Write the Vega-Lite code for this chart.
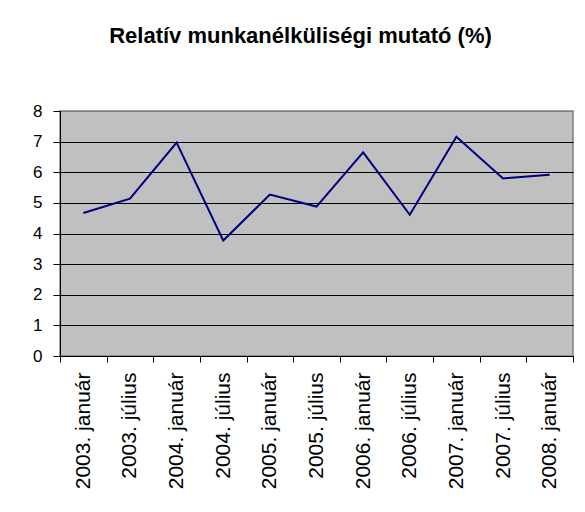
{
  "$schema": "https://vega.github.io/schema/vega-lite/v6.json",
  "width": 513,
  "height": 245,
  "autosize": {"type": "none"},
  "padding": {"left": 60, "top": 111, "right": 12, "bottom": 156},
  "background": "white",
  "title": {
    "text": "Relatív munkanélküliségi mutató (%)",
    "font": "Liberation Sans",
    "fontSize": 22,
    "fontWeight": "bold",
    "color": "black",
    "anchor": "middle",
    "frame": "group",
    "baseline": "alphabetic",
    "offset": 37,
    "dx": -16
  },
  "config": {
    "view": {"fill": "#C0C0C0", "stroke": "#808080", "strokeWidth": 1.5},
    "axis": {
      "labelFont": "Liberation Sans",
      "labelColor": "black",
      "domainColor": "black",
      "tickColor": "black",
      "titleFont": "Liberation Sans"
    }
  },
  "data": {
    "values": [
      {"idoszak": "2003. január", "ertek": 4.67},
      {"idoszak": "2003. július", "ertek": 5.14},
      {"idoszak": "2004. január", "ertek": 6.97},
      {"idoszak": "2004. július", "ertek": 3.77},
      {"idoszak": "2005. január", "ertek": 5.27},
      {"idoszak": "2005. július", "ertek": 4.88},
      {"idoszak": "2006. január", "ertek": 6.65},
      {"idoszak": "2006. július", "ertek": 4.61},
      {"idoszak": "2007. január", "ertek": 7.16},
      {"idoszak": "2007. július", "ertek": 5.80},
      {"idoszak": "2008. január", "ertek": 5.92}
    ]
  },
  "mark": {"type": "line", "color": "#000080", "strokeWidth": 2, "clip": false},
  "encoding": {
    "x": {
      "field": "idoszak",
      "type": "nominal",
      "sort": null,
      "bandPosition": 0.5,
      "scale": {"type": "band", "paddingInner": 0, "paddingOuter": 0},
      "axis": {
        "title": null,
        "labelAngle": -90,
        "labelAlign": "right",
        "labelBaseline": "middle",
        "labelFontSize": 21,
        "labelPadding": 10,
        "tickBand": "extent",
        "tickSize": 6,
        "grid": false,
        "domainWidth": 1,
        "tickWidth": 1
      }
    },
    "y": {
      "field": "ertek",
      "type": "quantitative",
      "scale": {"domain": [0, 8], "nice": false, "zero": true},
      "axis": {
        "title": null,
        "values": [0, 1, 2, 3, 4, 5, 6, 7, 8],
        "labelFontSize": 17,
        "labelPadding": 11,
        "tickSize": 7,
        "grid": true,
        "gridColor": {"condition": {"test": "datum.value === 8", "value": "#808080"}, "value": "black"},
        "gridWidth": 1,
        "domainWidth": 1,
        "tickWidth": 1
      }
    }
  }
}
